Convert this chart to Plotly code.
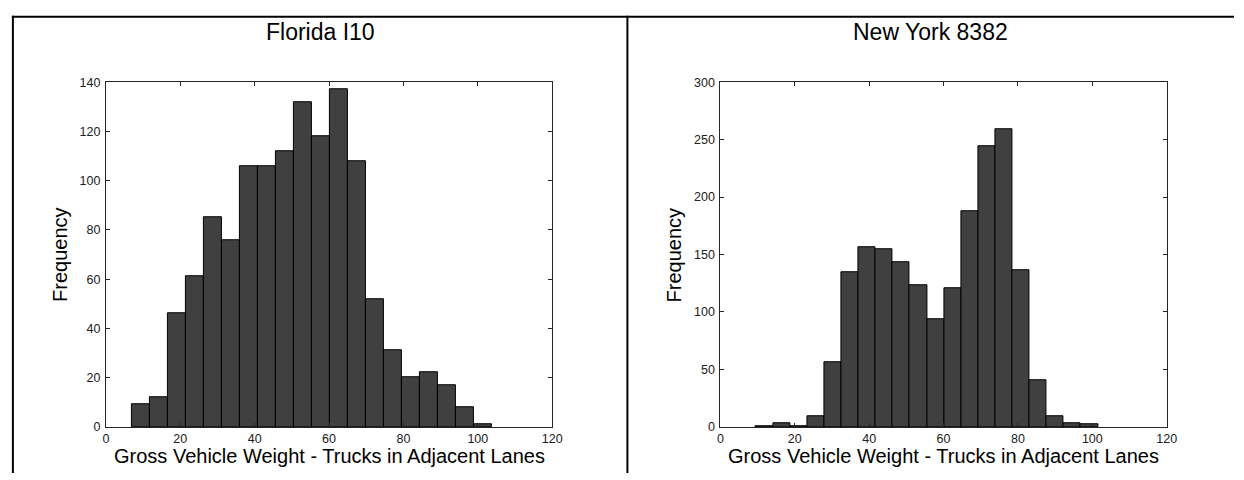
import plotly.graph_objects as go

# Histogram counts (20 equal-width bins per site)
fl_counts = [9, 12, 46, 61, 85, 76, 106, 106, 112, 132,
             118, 137, 108, 52, 31, 20, 22, 17, 8, 1]
fl_bin_start = 7.06
fl_bin_width = 4.84

ny_counts = [1, 3, 1, 9, 56, 135, 156, 155, 143, 123,
             94, 121, 188, 244, 259, 136, 41, 9, 3, 2]
ny_bin_start = 9.53
ny_bin_width = 4.60

titles = ["Florida I10", "New York 8382"]
x_label = "Gross Vehicle Weight - Trucks in Adjacent Lanes"
y_label = "Frequency"
x_ticks = [0, 20, 40, 60, 80, 100, 120]
fl_y_ticks = [0, 20, 40, 60, 80, 100, 120, 140]
ny_y_ticks = [0, 50, 100, 150, 200, 250, 300]

W, H = 1244, 480
BAR_FILL = "#404040"
AXIS_COLOR = "#262626"
FONT = "Liberation Sans, Arial, sans-serif"


def centers(start, width, n):
    return [start + width * (i + 0.5) for i in range(n)]


def px_x(p):
    return p / W


def px_y(p):
    return 1 - p / H


fig = go.Figure()

fig.add_trace(go.Bar(
    x=centers(fl_bin_start, fl_bin_width, len(fl_counts)), y=fl_counts,
    width=fl_bin_width, marker=dict(color=BAR_FILL, line=dict(color="black", width=1)),
    xaxis="x", yaxis="y", showlegend=False, hoverinfo="x+y"))
fig.add_trace(go.Bar(
    x=centers(ny_bin_start, ny_bin_width, len(ny_counts)), y=ny_counts,
    width=ny_bin_width, marker=dict(color=BAR_FILL, line=dict(color="black", width=1)),
    xaxis="x2", yaxis="y2", showlegend=False, hoverinfo="x+y"))

plot_top, plot_bottom = 77.5, 432.5
left_dom = [px_x(104), px_x(555)]
right_dom = [px_x(725), px_x(1176)]
y_dom = [px_y(plot_bottom), px_y(plot_top)]

common_axis = dict(
    showline=True, linecolor=AXIS_COLOR, linewidth=1, mirror="allticks",
    ticks="inside", ticklen=4, tickcolor=AXIS_COLOR, tickwidth=1,
    showgrid=False, zeroline=False,
    tickfont=dict(family=FONT, size=12.5, color="#202020"),
)
x_axis_style = dict(common_axis, ticklabelstandoff=0)
y_axis_style = dict(common_axis, ticklabelstandoff=2)

fig.update_layout(
    width=W, height=H,
    margin=dict(l=0, r=0, t=0, b=0),
    paper_bgcolor="white", plot_bgcolor="white",
    bargap=0,
    xaxis=dict(domain=left_dom, range=[0, 120], tickvals=x_ticks, anchor="y", **x_axis_style),
    yaxis=dict(domain=y_dom, range=[0, 140], tickvals=fl_y_ticks, anchor="x", **y_axis_style),
    xaxis2=dict(domain=right_dom, range=[0, 120], tickvals=x_ticks, anchor="y2", **x_axis_style),
    yaxis2=dict(domain=y_dom, range=[0, 300], tickvals=ny_y_ticks, anchor="x2", **y_axis_style),
)

# Table-style frame around the two panels
frame = dict(color="black", width=2)
shapes = [
    dict(type="line", xref="paper", yref="paper", x0=px_x(9), x1=1, y0=px_y(10), y1=px_y(10), line=frame),
    dict(type="line", xref="paper", yref="paper", x0=px_x(10), x1=px_x(10), y0=px_y(9), y1=0, line=frame),
    dict(type="line", xref="paper", yref="paper", x0=px_x(631), x1=px_x(631), y0=px_y(9), y1=0, line=frame),
]
fig.update_layout(shapes=shapes)

annotations = []
for title, cell_mid in zip(titles, [320.5, 937.5]):
    annotations.append(dict(
        text=title, xref="paper", yref="paper", x=px_x(cell_mid), y=px_y(26),
        xanchor="center", yanchor="middle", showarrow=False,
        font=dict(family=FONT, size=23, color="black")))
for plot_left, plot_right in [(104, 555), (725, 1176)]:
    annotations.append(dict(
        text=x_label, xref="paper", yref="paper", x=px_x((plot_left + plot_right) / 2), y=px_y(462),
        xanchor="center", yanchor="middle", showarrow=False,
        font=dict(family=FONT, size=20, color="black")))
    annotations.append(dict(
        text=y_label, xref="paper", yref="paper", x=px_x(plot_left - 47), y=px_y((plot_top + plot_bottom) / 2),
        xanchor="center", yanchor="middle", showarrow=False, textangle=-90,
        font=dict(family=FONT, size=20, color="black")))
fig.update_layout(annotations=annotations)

fig.write_html("out.html")
